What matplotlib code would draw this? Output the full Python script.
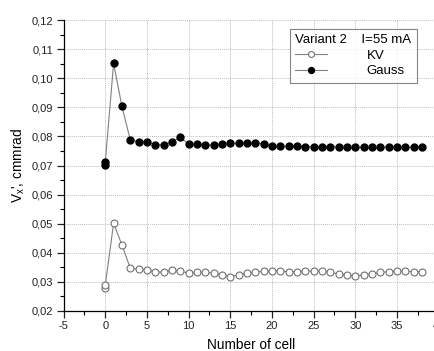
import matplotlib
matplotlib.use("Agg")
import matplotlib.pyplot as plt
from matplotlib.ticker import MultipleLocator, FuncFormatter

plt.rcParams['font.family'] = ['Liberation Sans', 'DejaVu Sans']
plt.rcParams['mathtext.fontset'] = 'custom'
plt.rcParams['mathtext.rm'] = 'Liberation Sans'
plt.rcParams['mathtext.it'] = 'Liberation Sans'

# Data
kv_x = [0, 0, 1, 2, 3, 4, 5, 6, 7, 8, 9, 10, 11, 12, 13, 14, 15, 16, 17, 18, 19,
        20, 21, 22, 23, 24, 25, 26, 27, 28, 29, 30, 31, 32, 33, 34, 35, 36, 37, 38]
kv_y = [0.0278, 0.0289, 0.0501, 0.0427, 0.0347, 0.0343, 0.0341, 0.0335, 0.0333, 0.0341,
        0.0337, 0.0330, 0.0333, 0.0333, 0.0330, 0.0324, 0.0318, 0.0324, 0.0330, 0.0333,
        0.0337, 0.0337, 0.0337, 0.0335, 0.0335, 0.0337, 0.0337, 0.0337, 0.0333, 0.0327,
        0.0324, 0.0321, 0.0324, 0.0327, 0.0333, 0.0335, 0.0337, 0.0337, 0.0335, 0.0335]
gauss_x = kv_x
gauss_y = [0.0702, 0.0711, 0.1051, 0.0903, 0.0788, 0.0781, 0.0781, 0.0772, 0.0772, 0.0781,
           0.0797, 0.0774, 0.0774, 0.0772, 0.0769, 0.0773, 0.0776, 0.0777, 0.0777, 0.0776,
           0.0775, 0.0766, 0.0766, 0.0766, 0.0766, 0.0765, 0.0765, 0.0765, 0.0765, 0.0764,
           0.0764, 0.0763, 0.0763, 0.0763, 0.0763, 0.0763, 0.0762, 0.0762, 0.0762, 0.0762]
legend_title = "Variant 2    I=55 mA"
series_labels = ["KV", "Gauss"]
x_label = "Number of cell"
y_label = r"V$_x$', cmmrad"

fig = plt.figure(figsize=(4.34, 3.51), dpi=100)
ax = fig.add_axes([63.6 / 434, 1 - 311 / 351, (438.6 - 63.6) / 434, (311 - 20) / 351])

ax.plot(kv_x, kv_y, color='#808080', lw=0.8, marker='o', markersize=5.0,
        markerfacecolor='white', markeredgecolor='#707070', markeredgewidth=0.8,
        label=series_labels[0], zorder=3)
ax.plot(gauss_x, gauss_y, color='#808080', lw=0.8, marker='o', markersize=5.0,
        markerfacecolor='black', markeredgecolor='black', label=series_labels[1], zorder=3)

ax.set_xlim(-5, 40)
ax.set_ylim(0.02, 0.12)
ax.xaxis.set_major_locator(MultipleLocator(5))
ax.xaxis.set_minor_locator(MultipleLocator(2.5))
ax.yaxis.set_major_locator(MultipleLocator(0.01))
ax.yaxis.set_minor_locator(MultipleLocator(0.005))
ax.xaxis.set_major_formatter(FuncFormatter(lambda v, p: f"{v:.0f}"))
ax.yaxis.set_major_formatter(FuncFormatter(lambda v, p: f"{v:.2f}".replace('.', ',')))

ax.tick_params(axis='both', which='major', direction='out', length=5, width=0.9,
               labelsize=8, colors='#222222', pad=2.5)
ax.tick_params(axis='both', which='minor', direction='out', length=3, width=0.8)

for s in ['top', 'right']:
    ax.spines[s].set_visible(False)
for s in ['left', 'bottom']:
    ax.spines[s].set_linewidth(0.9)

ax.grid(True, which='major', color='#bdbdbd', linestyle=(0, (1, 1)), lw=0.7)
ax.set_axisbelow(True)

ax.set_xlabel(x_label, fontsize=9.8, labelpad=5)
ax.set_ylabel(y_label, fontsize=9.8, labelpad=3)

leg = ax.legend(title=legend_title, loc='upper left',
                bbox_to_anchor=(290 / 434, 1 - 29 / 351), bbox_transform=fig.transFigure,
                borderaxespad=0, fontsize=9.5, title_fontsize=9.5, frameon=True,
                fancybox=False, edgecolor='#666666', handlelength=2.4, handletextpad=3.0,
                borderpad=0.4, labelspacing=0.25, alignment='left', markerscale=0.85)
leg.get_frame().set_linewidth(0.8)

fig.savefig("out.png", dpi=100)
